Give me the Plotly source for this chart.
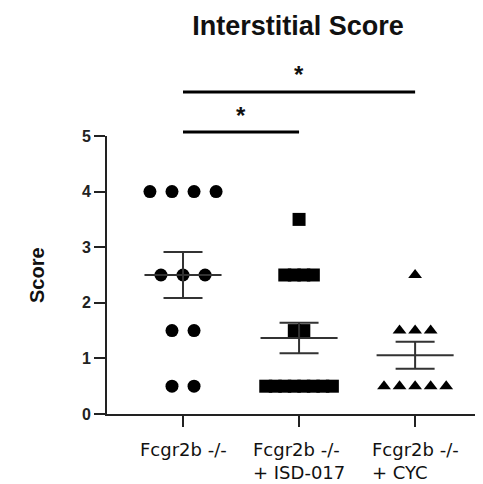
import numpy as np
import plotly.graph_objects as go

# ---- data ----
categories = ["Fcgr2b -/-", "Fcgr2b -/-<br>+ ISD-017", "Fcgr2b -/-<br>+ CYC"]
group1 = [4, 4, 4, 4, 2.5, 2.5, 2.5, 1.5, 1.5, 0.5, 0.5]
group2 = [3.5, 2.5, 2.5, 2.5, 2.5, 1.5, 1.5, 0.5, 0.5, 0.5, 0.5, 0.5, 0.5, 0.5, 0.5]
group3 = [2.5, 1.5, 1.5, 1.5, 0.5, 0.5, 0.5, 0.5, 0.5]
y_ticks = [0, 1, 2, 3, 4, 5]
sig_pairs = [(0, 2), (0, 1)]
sig_labels = ["*", "*"]

groups = [group1, group2, group3]
symbols = ["circle", "square", "triangle-up"]
marker_sizes = [13, 13, 12]
spacings = [0.19, 0.082, 0.134]

# page body has an 8px margin, so the figure is sized to fill the rest of the window
OFF = 8
W, H = 483 - OFF, 484 - OFF
L, R, T, B = 107 - OFF, 0, 136 - OFF, 70

fig = go.Figure()


def spread(values, center, step):
    xs = []
    vals = np.array(values)
    for v in sorted(set(values), reverse=True):
        n = int((vals == v).sum())
        for k in range(n):
            xs.append((center + (k - (n - 1) / 2) * step, v))
    return xs


for i, g in enumerate(groups):
    pts = spread(g, i, spacings[i])
    fig.add_trace(go.Scatter(
        x=[p[0] for p in pts], y=[p[1] for p in pts], mode="markers",
        marker=dict(symbol=symbols[i], size=marker_sizes[i], color="black", line=dict(width=0)),
        showlegend=False, hoverinfo="skip", cliponaxis=False))

for i, g in enumerate(groups):
    a = np.array(g, dtype=float)
    m = a.mean()
    sem = a.std(ddof=1) / np.sqrt(len(a))
    fig.add_trace(go.Scatter(
        x=[i - 0.332, i + 0.332], y=[m, m], mode="lines",
        line=dict(color="#333333", width=2), showlegend=False, hoverinfo="skip"))
    fig.add_trace(go.Scatter(
        x=[i], y=[m], mode="markers",
        marker=dict(size=1, color="rgba(0,0,0,0)"),
        error_y=dict(type="data", array=[sem], visible=True, color="#333333", thickness=2, width=19.5),
        showlegend=False, hoverinfo="skip"))

# significance bars
bar_y = [1.158, 1.0144]
star_y = [1.222, 1.075]
for (a, b), by, sy, lab in zip(sig_pairs, bar_y, star_y, sig_labels):
    fig.add_shape(type="line", xref="x", yref="paper", x0=a, x1=b, y0=by, y1=by,
                  line=dict(color="black", width=3))
    fig.add_annotation(xref="x", yref="paper", x=(a + b) / 2, y=sy, text="<b>" + lab + "</b>",
                       showarrow=False,
                       font=dict(family="Liberation Sans, Arial", size=24, color="#111111"),
                       yanchor="middle", xanchor="center")

# x labels (left-aligned multi-line)
for i, c in enumerate(categories):
    fig.add_annotation(xref="x", yref="paper", x=i, y=0, yshift=-23, text=c, showarrow=False,
                       align="left", xanchor="center", yanchor="top",
                       font=dict(family="DejaVu Sans", size=18, color="#111111"))

# y axis title
fig.add_annotation(xref="paper", yref="paper", x=-(L - 29) / (W - L - R), y=0.5, text="<b>Score</b>",
                   textangle=-90, showarrow=False, xanchor="center", yanchor="middle",
                   font=dict(family="Liberation Sans, Arial", size=20, color="#111111"))

fig.update_layout(
    width=W, height=H,
    margin=dict(l=L, r=R, t=T, b=B, autoexpand=False),
    paper_bgcolor="white", plot_bgcolor="white",
    title=dict(text="<b>Interstitial Score</b>", x=290 / W, xanchor="center", xref="container",
               y=1 - 18 / H, yanchor="middle", yref="container",
               font=dict(family="Liberation Sans, Arial", size=27, color="#111111")),
    xaxis=dict(range=[-0.655, 2.585], showgrid=False, zeroline=False, showline=True,
               linecolor="#222222", linewidth=2, ticks="outside", ticklen=11, tickwidth=2,
               tickcolor="#222222", tickvals=[0, 1, 2], showticklabels=False),
    yaxis=dict(range=[0, 5], showgrid=False, zeroline=False, showline=True,
               linecolor="#222222", linewidth=2, ticks="outside", ticklen=11, tickwidth=2,
               tickcolor="#222222", tickvals=y_ticks, ticktext=[f"<b>{t}</b>" for t in y_ticks],
               tickfont=dict(family="Liberation Sans, Arial", size=16, color="#222222")),
)

fig.write_html("out.html")
